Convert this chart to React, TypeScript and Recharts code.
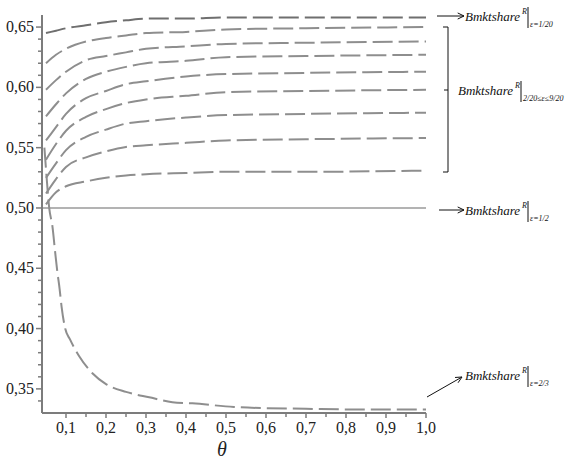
import React from "react";
import { Line, LineChart, XAxis, YAxis } from "recharts";

// theta grid shared by the nine curves for eps = 1/20 ... 9/20
const thetaGrid = [0.05, 0.075, 0.1, 0.15, 0.2, 0.25, 0.3, 0.4, 0.5, 0.7, 1.0];

const eps1of20 = [0.645, 0.647, 0.649, 0.6515, 0.654, 0.6556, 0.657, 0.657, 0.658, 0.658, 0.658];
const eps2of20 = [0.62, 0.627, 0.632, 0.638, 0.641, 0.643, 0.645, 0.646, 0.648, 0.649, 0.65];
const eps3of20 = [0.598, 0.606, 0.613, 0.6225, 0.626, 0.629, 0.632, 0.634, 0.636, 0.637, 0.638];
const eps4of20 = [0.576, 0.586, 0.595, 0.607, 0.613, 0.617, 0.62, 0.622, 0.625, 0.626, 0.627];
const eps5of20 = [0.556, 0.567, 0.578, 0.591, 0.597, 0.6026, 0.605, 0.609, 0.611, 0.612, 0.613];
const eps6of20 = [0.54, 0.553, 0.564, 0.5755, 0.582, 0.587, 0.59, 0.593, 0.596, 0.597, 0.598];
const eps7of20 = [0.525, 0.537, 0.548, 0.559, 0.565, 0.57, 0.572, 0.575, 0.577, 0.578, 0.579];
const eps8of20 = [0.512, 0.524, 0.534, 0.542, 0.547, 0.5506, 0.552, 0.554, 0.556, 0.557, 0.558];
const eps9of20 = [0.503, 0.513, 0.518, 0.522, 0.525, 0.527, 0.528, 0.529, 0.53, 0.53, 0.531];

// eps = 1/2 : flat line
const thetaHalf = [0.04, 1.0];
const epsHalf = [0.5, 0.5];

// eps = 2/3 : steep drop towards 1/3
const theta2of3 = [
  0.046, 0.05, 0.054, 0.058, 0.066, 0.073, 0.078, 0.084, 0.089, 0.098, 0.11, 0.133,
  0.166, 0.2, 0.25, 0.308, 0.366, 0.416, 0.52, 0.6, 0.7, 0.8, 0.9, 1.0,
];
const eps2of3 = [
  0.55, 0.532, 0.515, 0.5, 0.485, 0.463, 0.448, 0.433, 0.418, 0.4, 0.391, 0.377,
  0.363, 0.354, 0.3475, 0.343, 0.339, 0.338, 0.335, 0.334, 0.3335, 0.333, 0.333, 0.333,
];

const xTicks = [0.1, 0.15, 0.2, 0.25, 0.3, 0.35, 0.4, 0.45, 0.5, 0.55, 0.6, 0.65, 0.7, 0.75, 0.8, 0.85, 0.9, 0.95, 1.0];
const yTicks = [
  0.34, 0.35, 0.36, 0.37, 0.38, 0.39, 0.4, 0.41, 0.42, 0.43, 0.44, 0.45, 0.46, 0.47, 0.48, 0.49,
  0.5, 0.51, 0.52, 0.53, 0.54, 0.55, 0.56, 0.57, 0.58, 0.59, 0.6, 0.61, 0.62, 0.63, 0.64, 0.65,
];

const SERIF = "Liberation Serif";
const AXIS = "#7c7c7c";
const CURVE = "#8e8e8e";

const toPoints = (xs: number[], ys: number[]) => xs.map((t, i) => ({ t, v: ys[i] }));

const curves = [
  { key: "e1", pts: toPoints(thetaGrid, eps1of20), color: "#6f6f6f" },
  { key: "e2", pts: toPoints(thetaGrid, eps2of20), color: CURVE },
  { key: "e3", pts: toPoints(thetaGrid, eps3of20), color: CURVE },
  { key: "e4", pts: toPoints(thetaGrid, eps4of20), color: CURVE },
  { key: "e5", pts: toPoints(thetaGrid, eps5of20), color: CURVE },
  { key: "e6", pts: toPoints(thetaGrid, eps6of20), color: CURVE },
  { key: "e7", pts: toPoints(thetaGrid, eps7of20), color: CURVE },
  { key: "e8", pts: toPoints(thetaGrid, eps8of20), color: CURVE },
  { key: "e9", pts: toPoints(thetaGrid, eps9of20), color: CURVE },
  { key: "e23", pts: toPoints(theta2of3, eps2of3), color: CURVE },
];

const isMult = (v: number, step: number) => Math.abs(v / step - Math.round(v / step)) < 1e-6;

function YTick(props: any) {
  const { x, y, payload } = props;
  const major = isMult(payload.value, 0.05);
  return (
    <g>
      <line x1={x - (major ? 6 : 4)} x2={x} y1={y} y2={y} stroke={AXIS} strokeWidth={1.5} />
      {major ? (
        <text x={x - 8} y={y + 5} textAnchor="end" fontFamily={SERIF} fontSize={16} fill="#222">
          {payload.value.toFixed(2).replace(".", ",")}
        </text>
      ) : null}
    </g>
  );
}

function XTick(props: any) {
  const { x, y, payload } = props;
  const major = isMult(payload.value, 0.1);
  return (
    <g>
      <line x1={x} x2={x} y1={y} y2={y + (major ? 5 : 4)} stroke={AXIS} strokeWidth={1.5} />
      {major ? (
        <text x={x} y={y + 20} textAnchor="middle" fontFamily={SERIF} fontSize={16} fill="#222">
          {payload.value.toFixed(1).replace(".", ",")}
        </text>
      ) : null}
    </g>
  );
}

function Label({ x, y, sub }: { x: number; y: number; sub: string }) {
  return (
    <g fill="#111" fontFamily={SERIF} fontStyle="italic">
      <text x={x} y={y} fontSize={13}>
        Bmktshare
      </text>
      <text x={x + 57} y={y - 7} fontSize={8}>
        R
      </text>
      <line x1={x + 63} x2={x + 63} y1={y - 14} y2={y + 7} stroke="#111" strokeWidth={1} />
      <text x={x + 65} y={y + 6} fontSize={8}>
        {sub}
      </text>
    </g>
  );
}

function Arrow({ x1, y1, x2, y2 }: { x1: number; y1: number; x2: number; y2: number }) {
  const a = Math.atan2(y2 - y1, x2 - x1);
  const h = 7;
  const p1 = [x2 - h * Math.cos(a - 0.45), y2 - h * Math.sin(a - 0.45)];
  const p2 = [x2 - h * Math.cos(a + 0.45), y2 - h * Math.sin(a + 0.45)];
  return (
    <g stroke="#111" strokeWidth={1} fill="none">
      <line x1={x1} y1={y1} x2={x2} y2={y2} />
      <polyline points={`${p1[0]},${p1[1]} ${x2},${y2} ${p2[0]},${p2[1]}`} />
    </g>
  );
}

export default function App() {
  return (
    <div style={{ position: "absolute", left: 0, top: 0, width: 580, height: 460, background: "#fff" }}>
      <LineChart width={580} height={460} margin={{ top: 15, right: 154, bottom: 17, left: 0 }}>
        <XAxis
          dataKey="t"
          type="number"
          domain={[0.04, 1]}
          ticks={xTicks}
          interval={0}
          allowDataOverflow
          height={30}
          tickLine={false}
          tickSize={0}
          tickMargin={0}
          tick={<XTick />}
          axisLine={{ stroke: AXIS, strokeWidth: 2 }}
        />
        <YAxis
          type="number"
          domain={[0.33, 0.66]}
          ticks={yTicks}
          interval={0}
          allowDataOverflow
          width={42}
          tickLine={false}
          tickSize={0}
          tickMargin={0}
          tick={<YTick />}
          axisLine={{ stroke: AXIS, strokeWidth: 2 }}
        />
        <Line
          data={toPoints(thetaHalf, epsHalf)}
          dataKey="v"
          type="linear"
          stroke="#9a9a9a"
          strokeWidth={1.6}
          dot={false}
          isAnimationActive={false}
        />
        {curves.map((c) => (
          <Line
            key={c.key}
            data={c.pts}
            dataKey="v"
            type="monotone"
            stroke={c.color}
            strokeWidth={2}
            strokeDasharray="20 6"
            dot={false}
            isAnimationActive={false}
          />
        ))}
      </LineChart>
      <svg width={580} height={460} style={{ position: "absolute", left: 0, top: 0, pointerEvents: "none" }}>
        <Arrow x1={437} y1={16} x2={464} y2={16} />
        <Label x={465} y={21} sub="ε=1/20" />
        <g stroke="#111" strokeWidth={1} fill="none">
          <polyline points="443,27 448,27 448,172 443,172" />
          <line x1={444} y1={90} x2={448} y2={90} />
        </g>
        <Label x={458} y={95} sub="2/20≤ε≤9/20" />
        <Arrow x1={439} y1={210} x2={464} y2={210} />
        <Label x={465} y={215} sub="ε=1/2" />
        <Arrow x1={427} y1={397} x2={462} y2={377} />
        <Label x={465} y={380} sub="ε=2/3" />
        <text x={222} y={456} textAnchor="middle" fontFamily={SERIF} fontStyle="italic" fontSize={20} fill="#222">
          θ
        </text>
      </svg>
    </div>
  );
}
